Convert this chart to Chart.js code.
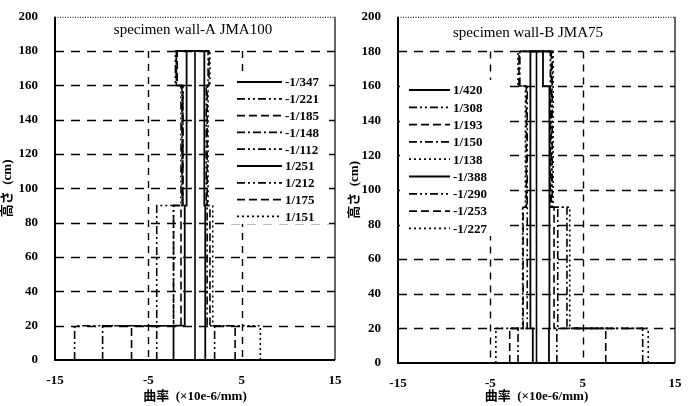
<!DOCTYPE html>
<html>
<head>
<meta charset="utf-8">
<script src="https://cdn.jsdelivr.net/npm/chart.js@4.4.1/dist/chart.umd.min.js"></script>
<style>
  html, body { margin:0; padding:0; background:#fff; }
  #wrap { position:relative; width:694px; height:406px; }
  .c { position:absolute; top:0; }
</style>
</head>
<body>
<div id="wrap">
  <div class="c" style="left:0;width:347px;height:406px"><canvas id="cA"></canvas></div>
  <div class="c" style="left:347px;width:347px;height:406px"><canvas id="cB"></canvas></div>
</div>
<script>
// ---- data (curvature, x10e-6/mm) for height segments 0-20, 20-90, 90-160, 160-180 cm ----
const segmentHeights = [0, 20, 90, 160, 180];
const xTicks = [-15, -5, 5, 15];
const yTicks = [0, 20, 40, 60, 80, 100, 120, 140, 160, 180, 200];

const wallA_labels   = ['-1/347', '-1/221', '-1/185', '-1/148', '-1/112', '1/251', '1/212', '1/175', '1/151'];
const wallA_seg0_20    = [-2.3, -4.1, -6.8, -9.9, -12.9, 1.1, 2.1, 4.3, 7.0];
const wallA_seg20_90   = [-1.1, -4.1, -1.5, -2.3, -2.3, 1.1, 1.3, 1.6, 1.9];
const wallA_seg90_160  = [-0.9, -1.4, -1.3, -1.3, -1.5, 1.0, 1.2, 1.3, 1.4];
const wallA_seg160_180 = [-0.9, -2.0, -1.9, -2.0, -2.1, 1.0, 1.4, 1.5, 1.6];

const wallB_labels   = ['1/420', '1/308', '1/193', '1/150', '1/138', '-1/388', '-1/290', '-1/253', '-1/227'];
const wallB_seg0_20    = [1.35, 2.2, 7.5, 11.5, 12.1, -0.4, -2.0, -2.9, -4.4];
const wallB_seg20_90   = [1.4, 2.3, 1.9, 3.3, 3.6, -0.7, -1.0, -1.45, -1.5];
const wallB_seg90_160  = [1.4, 1.6, 1.5, 1.7, 1.8, -0.7, -1.0, -1.1, -1.2];
const wallB_seg160_180 = [0.7, 1.5, 1.6, 1.7, 1.8, -0.6, -1.8, -1.9, -2.0];

// line styles (solid, dash-dot-dot, dashed, dash-dot, dotted)
const dashSolid = [], dashDDot = [8,3,2,3,2,3], dashDash = [8,4], dashDot = [8,3,2,3], dashDotted = [2,3];
const wallA_dash = [dashSolid, dashDDot, dashDash, dashDot, dashDDot, dashSolid, dashDDot, dashDash, dashDotted];
const wallB_dash = [dashSolid, dashDDot, dashDash, dashDot, dashDotted, dashSolid, dashDDot, dashDash, dashDotted];

function stepPoints(v1, v2, v3, v4) {
  const h = segmentHeights;
  return [
    {x:v1, y:h[0]}, {x:v1, y:h[1]}, {x:v2, y:h[1]}, {x:v2, y:h[2]},
    {x:v3, y:h[2]}, {x:v3, y:h[3]}, {x:v4, y:h[3]}, {x:v4, y:h[4]}, {x:0, y:h[4]}
  ];
}

function buildDatasets(labels, s1, s2, s3, s4, dashes) {
  const ds = labels.map((lab, i) => ({
    label: lab,
    data: stepPoints(s1[i], s2[i], s3[i], s4[i]),
    showLine: true, pointRadius: 0, borderColor: '#000',
    borderWidth: dashes[i].length ? 1.6 : 1.8,
    borderDash: dashes[i], fill: false, tension: 0
  }));
  ds.push({ label: '', data: [{x:0, y:0}, {x:0, y:180}], showLine: true, pointRadius: 0,
            borderColor: '#000', borderWidth: 1.6, borderDash: [] });
  return ds;
}

const serif = "'Liberation Serif', 'DejaVu Serif', serif";

const framePlugin = {
  id: 'frame',
  beforeDatasetsDraw(chart, args, opts) {
    const {ctx, chartArea: a, scales: {x, y}} = chart;
    ctx.save();
    ctx.strokeStyle = '#000';
    // horizontal dashed grid
    ctx.lineWidth = 1.6; ctx.setLineDash([9, 7]);
    for (let v = 20; v <= 180; v += 20) {
      const py = Math.round(y.getPixelForValue(v)) + 0.5;
      ctx.beginPath(); ctx.moveTo(a.left, py); ctx.lineTo(a.right, py); ctx.stroke();
    }
    // vertical dashed grid (up to 180)
    ctx.lineWidth = 1.4; ctx.setLineDash([7, 6]);
    const top180 = y.getPixelForValue(180);
    [-5, 5].forEach(v => {
      const px = Math.round(x.getPixelForValue(v)) + 0.5;
      ctx.beginPath(); ctx.moveTo(px, top180); ctx.lineTo(px, a.bottom); ctx.stroke();
    });
    // white box behind legend
    ctx.setLineDash([]);
    ctx.fillStyle = '#fff';
    ctx.fillRect(opts.boxX, opts.boxY, opts.boxW, opts.boxH);
    // frame
    ctx.lineWidth = 2;
    ctx.beginPath(); ctx.moveTo(a.left, a.top); ctx.lineTo(a.left, a.bottom); ctx.lineTo(a.right, a.bottom); ctx.stroke();
    ctx.lineWidth = 1.2;
    ctx.beginPath(); ctx.moveTo(a.right, a.top); ctx.lineTo(a.right, a.bottom); ctx.stroke();
    ctx.lineWidth = 1; ctx.setLineDash([1, 1.5]);
    ctx.beginPath(); ctx.moveTo(a.left, a.top + 0.5); ctx.lineTo(a.right, a.top + 0.5); ctx.stroke();
    ctx.restore();
  },
  afterDatasetsDraw(chart, args, opts) {
    const {ctx} = chart;
    ctx.save();
    ctx.fillStyle = '#000';
    ctx.font = "15px " + serif;
    ctx.textAlign = 'center'; ctx.textBaseline = 'middle';
    ctx.fillText(opts.title, opts.titleX, opts.titleY);
    ctx.font = "bold 13px " + serif;
    ctx.textAlign = 'left';
    chart.data.datasets.forEach((ds, i) => {
      if (!ds.label) return;
      const yy = opts.legY + i * opts.legStep;
      ctx.strokeStyle = '#000';
      ctx.lineWidth = ds.borderDash.length ? 1.8 : 2.2;
      ctx.setLineDash(ds.borderDash);
      ctx.beginPath(); ctx.moveTo(opts.legX, yy); ctx.lineTo(opts.legX + opts.legW, yy); ctx.stroke();
      ctx.setLineDash([]);
      ctx.fillText(ds.label, opts.legX + opts.legW + 3, yy + 1);
    });
    ctx.restore();
  }
};

function makeChart(id, datasets, yWidth, xHeight, pad, frameOpts) {
  return new Chart(document.getElementById(id), {
    type: 'scatter',
    data: { datasets },
    plugins: [framePlugin],
    options: {
      responsive: true, maintainAspectRatio: false, animation: false,
      layout: { padding: pad },
      plugins: { legend: { display: false }, tooltip: { enabled: false }, frame: frameOpts },
      scales: {
        x: {
          type: 'linear', min: -15, max: 15,
          afterBuildTicks: s => { s.ticks = xTicks.map(v => ({value: v})); },
          grid: { display: false }, border: { display: false },
          ticks: { color: '#000', font: { family: serif, size: 13, weight: 'bold' }, padding: 5, maxRotation: 0 },
          title: { display: true, text: '曲率  (×10e-6/mm)', color: '#000',
                   font: { family: serif + ", 'Noto Sans CJK JP'", size: 13, weight: 'bold' }, padding: {top: 0, bottom: 2} },
          afterFit: s => { s.height = xHeight; }
        },
        y: {
          type: 'linear', min: 0, max: 200,
          afterBuildTicks: s => { s.ticks = yTicks.map(v => ({value: v})); },
          grid: { display: false }, border: { display: false },
          ticks: { color: '#000', font: { family: serif, size: 13, weight: 'bold' }, padding: 9 },
          title: { display: true, text: '高さ  (cm)', color: '#000',
                   font: { family: serif + ", 'Noto Sans CJK JP'", size: 13, weight: 'bold' }, padding: {top: 0, bottom: 0} },
          afterFit: s => { s.width = yWidth; }
        }
      }
    }
  });
}

makeChart('cA',
  buildDatasets(wallA_labels, wallA_seg0_20, wallA_seg20_90, wallA_seg90_160, wallA_seg160_180, wallA_dash),
  55, 46, {left: 0, right: 12, top: 12, bottom: 0},
  { title: 'specimen wall-A JMA100', titleX: 193, titleY: 30, legX: 237, legW: 45, legY: 82, legStep: 16.8,
    boxX: 229, boxY: 74, boxW: 100, boxH: 150 });

makeChart('cB',
  buildDatasets(wallB_labels, wallB_seg0_20, wallB_seg20_90, wallB_seg90_160, wallB_seg160_180, wallB_dash),
  51, 43, {left: 0, right: 19, top: 15, bottom: 0},
  { title: 'specimen wall-B JMA75', titleX: 181, titleY: 33, legX: 62, legW: 41, legY: 90, legStep: 17.3,
    boxX: 53, boxY: 80, boxW: 105, boxH: 156 });
</script>
</body>
</html>
